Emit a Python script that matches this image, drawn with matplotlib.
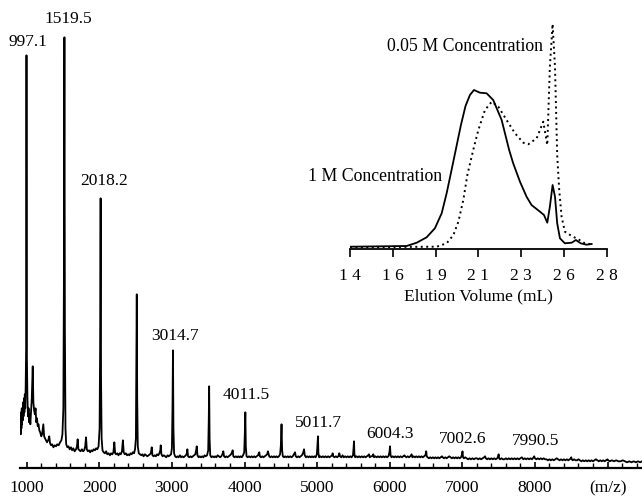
import matplotlib
matplotlib.use("Agg")
import matplotlib.pyplot as plt
import numpy as np

plt.rcParams['font.family'] = ['Liberation Serif', 'DejaVu Serif']
plt.rcParams['font.size'] = 12.5

# mass spectrum trace (m/z, intensity a.u.)
spec_mz = [
    908, 914, 918, 923, 927, 932, 936, 941, 946, 951, 956, 962, 968, 974, 980, 986, 992,
    997.1, 1003, 1010, 1018, 1026, 1034, 1042, 1050, 1060, 1070, 1083, 1092, 1102, 1112,
    1122, 1132, 1142, 1152, 1162, 1174, 1186, 1200, 1212, 1229, 1240, 1252, 1266, 1280,
    1296, 1311, 1322, 1336, 1350, 1368, 1386, 1404, 1420, 1440, 1460, 1478, 1492, 1505,
    1512, 1519.5, 1526, 1534, 1544, 1560, 1576, 1592, 1610, 1626, 1642, 1660, 1680, 1692,
    1702, 1712, 1726, 1742, 1760, 1776, 1792, 1806, 1817, 1828, 1842, 1858, 1874, 1890,
    1906, 1922, 1940, 1956, 1972, 1990, 2004, 2011, 2018.2, 2024, 2032, 2044, 2060, 2078,
    2094, 2110, 2128, 2147, 2162, 2178, 2194, 2207, 2218, 2232, 2248, 2264, 2280, 2296,
    2312, 2325, 2336, 2350, 2366, 2382, 2398, 2414, 2430, 2446, 2462, 2478, 2492, 2504,
    2510, 2516, 2522, 2530, 2544, 2560, 2578, 2594, 2610, 2628, 2646, 2662, 2680, 2696,
    2710, 2722, 2732, 2748, 2764, 2780, 2796, 2812, 2828, 2840, 2846, 2856, 2872, 2890,
    2906, 2922, 2940, 2956, 2972, 2988, 3000, 3008, 3014.7, 3021, 3030, 3044, 3060, 3076,
    3092, 3110, 3126, 3142, 3160, 3176, 3192, 3206, 3213, 3222, 3240, 3256, 3272, 3290,
    3306, 3322, 3334, 3342, 3352, 3368, 3384, 3400, 3418, 3434, 3450, 3466, 3484, 3500,
    3508, 3513, 3519, 3528, 3544, 3562, 3580, 3596, 3612, 3630, 3648, 3664, 3680, 3696,
    3708, 3718, 3734, 3750, 3766, 3784, 3800, 3814, 3828, 3837, 3846, 3862, 3880, 3898,
    3914, 3930, 3946, 3962, 3980, 3996, 4004, 4011.5, 4018, 4028, 4044, 4062, 4080, 4098,
    4116, 4134, 4150, 4168, 4186, 4196, 4204, 4212, 4228, 4246, 4262, 4280, 4296, 4312,
    4322, 4330, 4340, 4356, 4372, 4390, 4406, 4424, 4440, 4456, 4474, 4490, 4500, 4510,
    4518, 4528, 4544, 4560, 4578, 4596, 4612, 4630, 4648, 4664, 4680, 4696, 4706, 4722,
    4740, 4756, 4772, 4790, 4806, 4820, 4830, 4846, 4862, 4880, 4896, 4914, 4930, 4946,
    4962, 4980, 4996, 5004, 5011.7, 5018, 5028, 5044, 5062, 5080, 5098, 5116, 5134, 5152,
    5170, 5188, 5206, 5214, 5222, 5240, 5258, 5276, 5292, 5306, 5316, 5334, 5350, 5368,
    5386, 5404, 5422, 5440, 5458, 5476, 5494, 5502, 5508, 5514, 5524, 5542, 5560, 5578,
    5596, 5614, 5632, 5650, 5668, 5686, 5704, 5714, 5724, 5742, 5760, 5774, 5784, 5802,
    5820, 5838, 5856, 5874, 5892, 5910, 5928, 5946, 5964, 5982, 5996, 6004.3, 6012, 6024,
    6042, 6060, 6078, 6096, 6114, 6132, 6150, 6168, 6186, 6204, 6212, 6230, 6248, 6266,
    6284, 6302, 6312, 6330, 6348, 6366, 6384, 6402, 6420, 6438, 6456, 6474, 6490, 6497,
    6503, 6510, 6522, 6540, 6558, 6576, 6594, 6612, 6630, 6648, 6666, 6684, 6702, 6720,
    6730, 6748, 6766, 6784, 6802, 6820, 6838, 6856, 6874, 6892, 6910, 6928, 6946, 6964,
    6982, 6996, 7002.6, 7010, 7022, 7040, 7060, 7080, 7100, 7120, 7140, 7160, 7180, 7200,
    7220, 7240, 7260, 7280, 7300, 7313, 7324, 7342, 7360, 7380, 7400, 7420, 7440, 7460,
    7480, 7494, 7500, 7507, 7520, 7540, 7560, 7580, 7600, 7620, 7640, 7660, 7680, 7700,
    7720, 7740, 7760, 7780, 7800, 7820, 7840, 7860, 7880, 7900, 7920, 7940, 7960, 7982,
    7990.5, 8000, 8020, 8040, 8060, 8080, 8100, 8120, 8140, 8160, 8180, 8200, 8220, 8240,
    8260, 8280, 8300, 8320, 8340, 8360, 8380, 8400, 8420, 8440, 8460, 8480, 8494, 8500,
    8508, 8520, 8540, 8560, 8580, 8600, 8620, 8640, 8660, 8680, 8700, 8720, 8740, 8760,
    8780, 8800, 8820, 8840, 8860, 8880, 8900, 8920, 8940, 8960, 8980, 9000, 9010, 9030,
    9060, 9090, 9120, 9150, 9180, 9210, 9240, 9270, 9300, 9330, 9360, 9390, 9420, 9450, 9475,
]
spec_int = [
    38, 50, 34, 56, 40, 60, 44, 58, 48, 66, 52, 70, 56, 74, 60, 82, 120,
    413, 110, 70, 52, 60, 46, 54, 44, 58, 70, 102, 66, 58, 54,
    60, 46, 50, 42, 44, 38, 36, 32, 34, 44, 32, 30, 28, 26,
    28, 32, 25, 23, 24, 21, 23, 22, 24, 23, 26, 28, 34, 60,
    180, 431, 140, 40, 24, 21, 22, 19, 21, 18, 20, 17, 19, 22,
    29, 19, 18, 17, 19, 17, 18, 22, 31, 19, 17, 18, 16, 18,
    17, 19, 18, 20, 19, 22, 40, 120, 270, 90, 30, 18, 16, 15,
    17, 14, 15, 13, 15, 14, 16, 26, 15, 14, 15, 13, 15, 14,
    17, 28, 16, 14, 15, 13, 14, 13, 15, 14, 16, 15, 19, 30,
    100, 174, 70, 22, 15, 14, 13, 14, 12, 14, 13, 12, 13, 14,
    15, 21, 13, 12, 13, 12, 14, 13, 15, 18, 23, 14, 12, 13,
    12, 11, 13, 12, 13, 14, 20, 60, 118, 40, 15, 12, 11, 12,
    11, 13, 11, 12, 11, 12, 13, 15, 19, 12, 11, 12, 11, 12,
    13, 14, 18, 22, 13, 11, 12, 11, 12, 11, 13, 12, 13, 18,
    50, 82, 30, 13, 11, 12, 11, 12, 11, 13, 12, 11, 12, 14,
    17, 12, 11, 12, 11, 12, 13, 14, 16, 18, 12, 11, 12, 11,
    12, 11, 12, 11, 13, 16, 34, 56, 22, 12, 11, 12, 11, 12,
    11, 12, 11, 12, 13, 15, 16, 12, 11, 12, 11, 12, 13, 14,
    17, 15, 12, 11, 12, 11, 12, 11, 12, 11, 12, 14, 22, 44,
    18, 12, 11, 12, 11, 12, 11, 12, 11, 12, 14, 16, 12, 11,
    12, 11, 12, 13, 15, 19, 13, 11, 12, 11, 12, 11, 12, 11,
    12, 11, 14, 22, 32, 15, 11, 12, 11, 12, 11, 12, 11, 12,
    11, 12, 13, 15, 12, 11, 12, 11, 12, 15, 12, 11, 13, 11,
    12, 11, 12, 11, 12, 11, 13, 20, 27, 14, 11, 12, 11, 12,
    11, 12, 11, 12, 11, 12, 13, 14, 11, 12, 12, 14, 11, 12,
    11, 12, 11, 12, 11, 12, 11, 12, 11, 12, 16, 22, 13, 11,
    12, 11, 12, 11, 12, 11, 12, 11, 12, 13, 12, 11, 12, 11,
    12, 14, 11, 12, 11, 12, 11, 12, 11, 12, 11, 12, 13, 15,
    17, 12, 11, 10, 11, 10, 11, 10, 11, 10, 11, 10, 11, 12,
    11, 10, 11, 10, 11, 12, 11, 10, 11, 10, 11, 10, 11, 10,
    11, 14, 17, 11, 10, 11, 10, 9, 10, 9, 10, 9, 10, 10,
    9, 10, 9, 10, 11, 12, 10, 9, 10, 9, 10, 9, 10, 9,
    10, 12, 14, 10, 9, 10, 9, 9, 10, 9, 10, 9, 10, 9,
    10, 9, 10, 9, 10, 11, 9, 10, 9, 10, 9, 10, 9, 11,
    12, 10, 9, 10, 9, 10, 9, 10, 9, 9, 8, 9, 8, 9,
    8, 9, 10, 9, 8, 9, 8, 9, 8, 9, 8, 9, 10, 11,
    9, 8, 9, 8, 8, 9, 8, 7, 8, 7, 8, 7, 8, 7,
    8, 7, 8, 9, 8, 7, 8, 7, 8, 7, 8, 9, 8, 7,
    8, 7, 8, 7, 7, 8, 7, 6, 7, 6, 7, 6, 7, 6, 7,
]

# labelled peaks
peak_mz = [997.1, 1519.5, 2018.2, 3014.7, 4011.5, 5011.7, 6004.3, 7002.6, 7990.5]
peak_top = [413, 431, 270, 118, 56, 32, 22, 17, 12]
peak_labels = ['997.1', '1519.5', '2018.2', '3014.7', '4011.5',
               '5011.7', '6004.3', '7002.6', '7990.5']
# label offset above each peak, in pixels (layout only)
label_dx = [1, 4, 4, 2, 1, 0, 0, 0, 1]
label_dy = [13, 18, 17, 14, 17, 13, 12, 12, 15]

mz_ticks = [1000, 2000, 3000, 4000, 5000, 6000, 7000, 8000, 9000]
mz_tick_labels = ['1000', '2000', '3000', '4000', '5000', '6000', '7000', '8000', '(m/z)']

# inset: elution profiles (mL, a.u.)
sol_ml = [14.0, 17.09, 17.64, 18.18, 18.63, 19.0, 19.27, 19.55, 19.8, 20.05, 20.3,
          20.54, 20.76, 21.09, 21.45, 21.81, 22.27, 22.68, 22.9, 23.27, 23.63, 23.9,
          24.36, 24.58, 24.76, 24.9, 25.05, 25.18, 25.3, 25.45, 25.72, 26.09, 26.32,
          26.58, 26.9, 27.18]
sol_int = [2.3, 3, 6.3, 11.7, 20.7, 35.7, 55.7, 80, 102, 124, 143,
           154, 159, 156.3, 155.7, 149, 129, 99, 85.7, 67.3, 52.3, 44,
           37.3, 34, 26.3, 42.3, 64, 52.3, 25.7, 10.7, 5.7, 6.3, 9,
           5.7, 4.3, 5]
dot_ml = [14.0, 18.73, 19.27, 19.64, 19.91, 20.18, 20.4, 20.72, 21.0, 21.36, 21.73,
          22.09, 22.54, 23.0, 23.45, 23.72, 24.18, 24.54, 24.76, 24.9, 25.05, 25.18,
          25.3, 25.41, 25.54, 25.72, 26.09, 26.45, 26.81, 27.18]
dot_int = [1.7, 2.3, 5.7, 14, 27.3, 49, 74, 99, 119, 139, 147.3,
           142.3, 129, 115.7, 106.3, 104.7, 110.7, 127.3, 104, 182, 225, 182,
           94, 59, 32.3, 17.3, 13, 9.7, 5.7, 4.7]
ml_ticks = np.linspace(14, 28, 7)
ml_tick_labels = [' '.join(str(int(round(v)))) for v in ml_ticks]

W, H = 642, 496
fig = plt.figure(figsize=(W / 100, H / 100), dpi=100)

# main spectrum
ax = fig.add_axes([20 / W, 27.7 / H, 622 / W, 468.3 / H])
ax.plot(spec_mz, spec_int, color='black', lw=1.3)
ax.set_xlim(907.7, 9475)
ax.set_ylim(0, 468.3)
for s in ['left', 'right', 'top']:
    ax.spines[s].set_visible(False)
ax.spines['bottom'].set_linewidth(1.6)
ax.set_yticks([])
ax.set_xticks(mz_ticks)
ax.set_xticklabels(mz_tick_labels)
ax.set_xticks(np.arange(1200, 9475, 200), minor=True)
ax.tick_params(axis='x', which='major', direction='in', length=4.5, width=1.2, pad=8.5)
ax.tick_params(axis='x', which='minor', direction='in', length=3.5, width=1.0)

for x, y, lab, dx, dy in zip(peak_mz, peak_top, peak_labels, label_dx, label_dy):
    ax.annotate(lab, xy=(x, y), xytext=(dx * 0.72, dy * 0.72), textcoords='offset points',
                ha='center', va='center')

# inset chromatogram
ax2 = fig.add_axes([350 / W, (H - 249) / H, 256.7 / W, 249 / H])
ax2.patch.set_alpha(0)
ax2.plot(sol_ml, sol_int, color='black', lw=1.3)
ax2.plot(dot_ml, dot_int, color='black', lw=1.4, linestyle=(0, (1, 1.8)))
ax2.set_xlim(14, 28)
ax2.set_ylim(0, 249)
for s in ['left', 'right', 'top']:
    ax2.spines[s].set_visible(False)
ax2.spines['bottom'].set_linewidth(1.3)
ax2.set_yticks([])
ax2.set_xticks(ml_ticks)
ax2.set_xticklabels(ml_tick_labels)
ax2.tick_params(axis='x', direction='out', length=6, width=1.2, pad=8)
ax2.set_xlabel('Elution Volume (mL)', fontsize=12.5, labelpad=3)
ax2.text(16.0, 202.3, '0.05 M Concentration', ha='left', va='center', fontsize=12.8)
ax2.text(11.73, 72.3, '1 M Concentration', ha='left', va='center', fontsize=12.8,
         clip_on=False)

fig.savefig('out.png', dpi=100)
